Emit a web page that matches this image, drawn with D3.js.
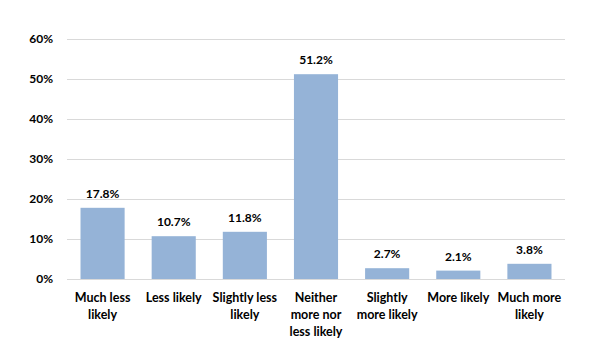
<!DOCTYPE html>
<html><head><meta charset="utf-8">
<script src="https://cdn.jsdelivr.net/npm/d3@7"></script>
<style>body{margin:0;background:#fff}svg{display:block}text{font-family:Lato,"Open Sans",sans-serif;font-weight:bold;fill:#000}</style>
</head><body><svg id="c" width="600" height="360"></svg>
<script>
const categories = ["Much less likely","Less likely","Slightly less likely","Neither more nor less likely","Slightly more likely","More likely","Much more likely"];
const catLines = [["Much less","likely"],["Less likely"],["Slightly less","likely"],["Neither","more nor","less likely"],["Slightly","more likely"],["More likely"],["Much more","likely"]];
const values = [17.8,10.7,11.8,51.2,2.7,2.1,3.8];
const yTicks = [0,10,20,30,40,50,60];

const svg = d3.select("#c");
const x = d3.scaleBand().domain(categories).range([67,565]).paddingInner(0.38).paddingOuter(0.19);
const y = d3.scaleLinear().domain([0,60]).range([279,39]);

// gridlines
svg.append("g").selectAll("line").data(yTicks).join("line")
  .attr("x1",67).attr("x2",565).attr("y1",d=>y(d)).attr("y2",d=>y(d))
  .attr("stroke","#d9d9d9").attr("stroke-width",1).attr("shape-rendering","crispEdges");

const yAxis = svg.append("g").attr("transform","translate(67,0)")
  .call(d3.axisLeft(y).tickValues(yTicks).tickFormat(d=>d+"%").tickSize(0).tickPadding(14));
yAxis.select(".domain").remove();
yAxis.selectAll("text").style("font-size","12px").style("font-family","Lato, sans-serif").style("font-weight","bold");

svg.append("g").selectAll("rect").data(values).join("rect")
  .attr("x",(d,i)=>x(categories[i])).attr("width",x.bandwidth())
  .attr("y",d=>y(d)).attr("height",d=>y(0)-y(d)).attr("fill","#95b3d7");

svg.append("g").selectAll("text").data(values).join("text")
  .attr("x",(d,i)=>x(categories[i])+x.bandwidth()/2).attr("y",d=>y(d)-10)
  .attr("text-anchor","middle").style("font-size","12px").text(d=>d.toFixed(1)+"%");

const xl = svg.append("g");
categories.forEach((c,i)=>{
  const t = xl.append("text").attr("x",x(c)+x.bandwidth()/2).attr("y",302)
    .attr("text-anchor","middle").style("font-size","12.5px");
  catLines[i].forEach((l,j)=>t.append("tspan").attr("x",x(c)+x.bandwidth()/2).attr("dy",j?17:0).text(l));
});
</script></body></html>
